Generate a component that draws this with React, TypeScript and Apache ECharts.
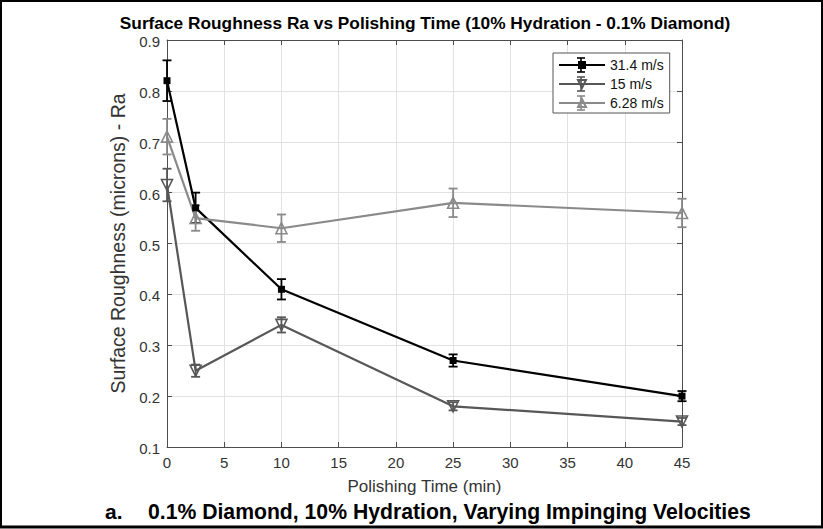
import React, { useEffect, useRef } from "react";
import * as echarts from "echarts";

const times = [0, 2.5, 10, 25, 45];
const seriesNames = ["31.4 m/s", "15 m/s", "6.28 m/s"];
const ra314 = [0.82, 0.57, 0.41, 0.27, 0.2];
const err314 = [0.04, 0.03, 0.02, 0.012, 0.01];
const ra15 = [0.615, 0.25, 0.34, 0.18, 0.15];
const err15 = [0.032, 0.012, 0.015, 0.008, 0.007];
const ra628 = [0.71, 0.55, 0.53, 0.58, 0.56];
const err628 = [0.035, 0.025, 0.027, 0.028, 0.028];

const titleText = "Surface Roughness Ra vs Polishing Time (10% Hydration - 0.1% Diamond)";
const xName = "Polishing Time (min)";
const yName = "Surface Roughness (microns) - Ra";
const captionLetter = "a.";
const captionText = "0.1% Diamond, 10% Hydration, Varying Impinging Velocities";

const FONT = '"Liberation Sans", Arial, Helvetica, sans-serif';
const COLORS = ["#000000", "#575757", "#8a8a8a"];
const AXIS = "#4d4d4d";
const TEXT = "#333333";
const GRIDC = "#e2e2e2";

function pairs(vals: number[]) {
  return times.map((t, i) => [t, vals[i]]);
}
function errData(vals: number[], errs: number[]) {
  return times.map((t, i) => [t, vals[i] - errs[i], vals[i] + errs[i]]);
}

function errorSeries(name: string, vals: number[], errs: number[], color: string) {
  return {
    type: "custom",
    name: name + " err",
    xAxisIndex: 0,
    yAxisIndex: 0,
    silent: true,
    z: 3,
    data: errData(vals, errs),
    encode: { x: 0, y: [1, 2] },
    renderItem: (_params: any, api: any) => {
      const x = api.value(0);
      const lo = api.value(1);
      const hi = api.value(2);
      const pLo = api.coord([x, lo]);
      const pHi = api.coord([x, hi]);
      const cap = 4.5;
      const style = { stroke: color, lineWidth: 1.8, fill: null };
      return {
        type: "group",
        children: [
          { type: "line", shape: { x1: pLo[0], y1: pLo[1], x2: pHi[0], y2: pHi[1] }, style },
          { type: "line", shape: { x1: pLo[0] - cap, y1: pLo[1], x2: pLo[0] + cap, y2: pLo[1] }, style },
          { type: "line", shape: { x1: pHi[0] - cap, y1: pHi[1], x2: pHi[0] + cap, y2: pHi[1] }, style },
        ],
      };
    },
  };
}

export default function App() {
  const ref = useRef<HTMLDivElement>(null);
  useEffect(() => {
    if (!ref.current) return;
    const chart = echarts.init(ref.current, null, { renderer: "svg" });

    const gridLeft = 167;
    const gridTop = 40;
    const gridRight = 823 - 682;
    const gridBottom = 529 - 447;

    const legendX = 581;
    const legendYs = [65, 84, 103];
    const legendErr: any[] = [];
    legendYs.forEach((cy, i) => {
      const st = { stroke: COLORS[i], lineWidth: 1.6 };
      legendErr.push(
        { type: "line", z: 100, shape: { x1: legendX, y1: cy - 7, x2: legendX, y2: cy + 7 }, style: st },
        { type: "line", z: 100, shape: { x1: legendX - 4, y1: cy - 7, x2: legendX + 4, y2: cy - 7 }, style: st },
        { type: "line", z: 100, shape: { x1: legendX - 4, y1: cy + 7, x2: legendX + 4, y2: cy + 7 }, style: st }
      );
    });

    const axisCommon = {
      type: "value",
      axisLine: { show: true, onZero: false, lineStyle: { color: AXIS, width: 1 } },
      axisTick: { show: true, inside: true, length: 5, lineStyle: { color: AXIS } },
    };

    const option: any = {
      animation: false,
      backgroundColor: "#ffffff",
      textStyle: { fontFamily: FONT },
      grid: {
        left: gridLeft,
        right: gridRight,
        top: gridTop,
        bottom: gridBottom,
        containLabel: false,
        outerBoundsMode: "none",
      },
      legend: {
        data: seriesNames,
        orient: "vertical",
        left: 553,
        top: 53,
        padding: [5, 6, 3, 5],
        itemWidth: 46,
        itemHeight: 10,
        itemGap: 5,
        borderColor: "#555",
        borderWidth: 1,
        borderRadius: 0,
        backgroundColor: "#ffffff",
        textStyle: { fontFamily: FONT, fontSize: 14, lineHeight: 14, color: "#111" },
        selectedMode: false,
        z: 50,
      },
      xAxis: [
        {
          ...axisCommon,
          position: "bottom",
          min: 0,
          max: 45,
          interval: 5,
          name: xName,
          nameLocation: "middle",
          nameGap: 31,
          nameTextStyle: { fontFamily: FONT, fontSize: 17, color: TEXT },
          axisLabel: { fontFamily: FONT, fontSize: 15, color: TEXT, margin: 8 },
          splitLine: { show: true, lineStyle: { color: GRIDC, width: 1 } },
        },
        {
          ...axisCommon,
          position: "top",
          min: 0,
          max: 45,
          interval: 5,
          axisLabel: { show: false },
          splitLine: { show: false },
        },
      ],
      yAxis: [
        {
          ...axisCommon,
          position: "left",
          min: 0.1,
          max: 0.9,
          interval: 0.1,
          name: yName,
          nameLocation: "middle",
          nameGap: 33,
          nameRotate: 90,
          nameTextStyle: { fontFamily: FONT, fontSize: 19.5, color: TEXT },
          axisLabel: {
            fontFamily: FONT,
            fontSize: 15,
            color: TEXT,
            margin: 7,
            verticalAlign: "top",
            lineHeight: 3,
            formatter: (v: number) => v.toFixed(1),
          },
          splitLine: { show: true, lineStyle: { color: GRIDC, width: 1 } },
        },
        {
          ...axisCommon,
          position: "right",
          min: 0.1,
          max: 0.9,
          interval: 0.1,
          axisLabel: { show: false },
          splitLine: { show: false },
        },
      ],
      series: [
        errorSeries(seriesNames[0], ra314, err314, COLORS[0]),
        errorSeries(seriesNames[1], ra15, err15, COLORS[1]),
        errorSeries(seriesNames[2], ra628, err628, COLORS[2]),
        {
          type: "line",
          name: seriesNames[0],
          data: pairs(ra314),
          symbol: "rect",
          symbolSize: 7,
          z: 4,
          lineStyle: { color: COLORS[0], width: 2.2 },
          itemStyle: { color: COLORS[0], borderColor: COLORS[0], borderWidth: 0 },
        },
        {
          type: "line",
          name: seriesNames[1],
          data: pairs(ra15),
          symbol: "triangle",
          symbolRotate: 180,
          symbolSize: 11,
          z: 4,
          lineStyle: { color: COLORS[1], width: 2.2 },
          itemStyle: { color: "rgba(255,255,255,0)", borderColor: COLORS[1], borderWidth: 1.6 },
        },
        {
          type: "line",
          name: seriesNames[2],
          data: pairs(ra628),
          symbol: "triangle",
          symbolSize: 11,
          z: 4,
          lineStyle: { color: COLORS[2], width: 2.2 },
          itemStyle: { color: "rgba(255,255,255,0)", borderColor: COLORS[2], borderWidth: 1.6 },
        },
      ],
      graphic: [
        {
          type: "rect",
          z: 200,
          silent: true,
          shape: { x: 1, y: 1, width: 821, height: 526 },
          style: { fill: null, stroke: "#000", lineWidth: 2 },
        },
        {
          type: "line",
          z: 200,
          silent: true,
          shape: { x1: 0, y1: 527, x2: 823, y2: 527 },
          style: { stroke: "#000", lineWidth: 3 },
        },
        {
          type: "text",
          z: 100,
          x: 425,
          y: 23,
          style: {
            text: titleText,
            fontFamily: FONT,
            fontSize: 17.3,
            fontWeight: "bold",
            fill: "#000",
            align: "center",
            verticalAlign: "middle",
          },
        },
        {
          type: "text",
          z: 100,
          x: 105,
          y: 511,
          style: {
            text: captionLetter,
            fontFamily: FONT,
            fontSize: 21,
            fontWeight: "bold",
            fill: "#000",
            align: "left",
            verticalAlign: "middle",
          },
        },
        {
          type: "text",
          z: 100,
          x: 148,
          y: 511,
          style: {
            text: captionText,
            fontFamily: FONT,
            fontSize: 21.2,
            fontWeight: "bold",
            fill: "#000",
            align: "left",
            verticalAlign: "middle",
          },
        },
        ...legendErr,
      ],
    };

    chart.setOption(option);
    return () => {
      chart.dispose();
    };
  }, []);

  return (
    <div
      ref={ref}
      style={{ position: "absolute", left: 0, top: 0, width: 823, height: 529, background: "#fff" }}
    />
  );
}
